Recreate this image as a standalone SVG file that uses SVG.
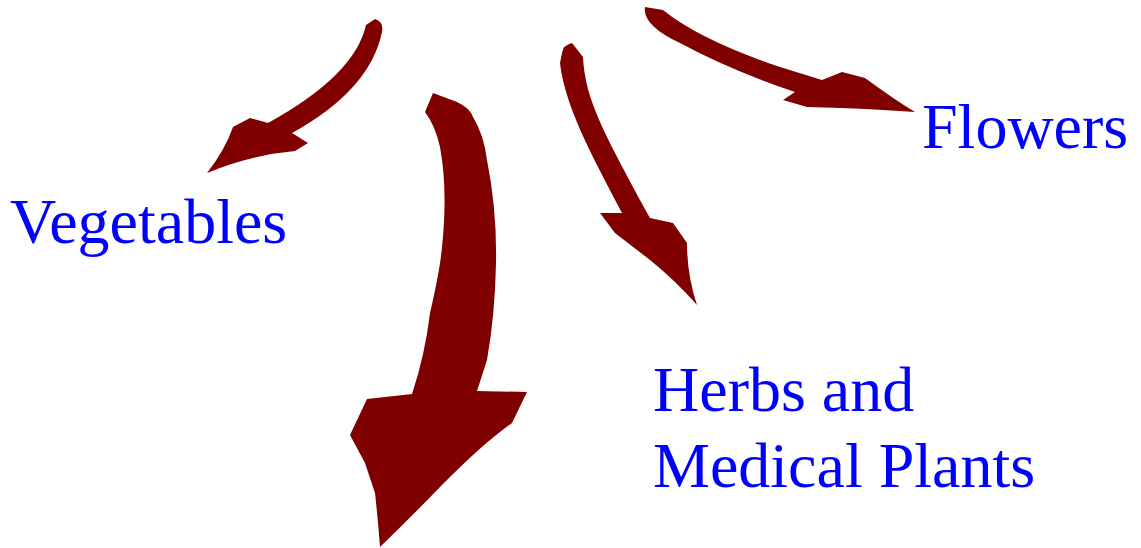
<svg xmlns="http://www.w3.org/2000/svg" width="1141" height="548" viewBox="0 0 1141 548">
<style>
.arrow{fill:#800000;stroke:none}
.lbl{font-family:"Liberation Serif","Times New Roman",serif;font-size:64px;fill:#0000ff}
</style>
<rect width="1141" height="548" fill="#ffffff"/>
<g id="connectors">
<path id="arrow-vegetables" class="arrow" d="M366,25 L375,19 Q384,22 382,32 Q370,90 292,133 L308,143 L295,151 Q250,155 207,173 Q225,150 233,127 L250,118 L268,123 Q355,75 366,25 Z"/>
<path id="arrow-center" class="arrow" d="M425,112 L433,93 L457,102 Q470,108 473,117 Q484,135 487,160 Q497,210 496,263 Q495,315 487,360 L477,391 L527,392 L512,423 Q483,443 440,487 Q410,518 380,547 Q378,520 375,493 Q370,478 365,463 L350,435 L367,399 L412,394 Q425,355 430,313 Q440,270 442,247 Q448,190 440,147 Q435,125 425,112 Z"/>
<path id="arrow-herbs" class="arrow" d="M562,53 Q563,45 572,43 L583,57 C585,100 605,135 650,218 L673,223 L687,243 Q687,275 697,305 Q675,280 650,260 L615,233 L600,213 L622,213 C600,170 565,110 560,63 Z"/>
<path id="arrow-flowers" class="arrow" d="M645,7 L663,10 Q700,40 780,67 L822,80 L842,72 L865,78 Q895,100 915,112 Q860,108 807,107 L783,100 L795,92 Q730,70 680,43 Q642,25 645,7 Z"/>
</g>
<g id="node-vegetables"><text class="lbl" x="10" y="243">Vegetables</text></g>
<g id="node-flowers"><text class="lbl" x="922" y="148">Flowers</text></g>
<g id="node-herbs"><text class="lbl" x="653" y="411">Herbs and</text><text class="lbl" x="653" y="487">Medical Plants</text></g>
</svg>
